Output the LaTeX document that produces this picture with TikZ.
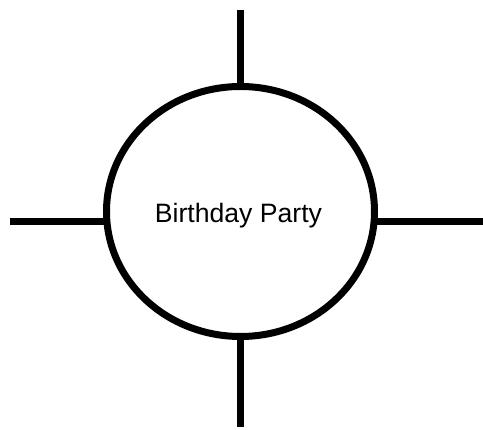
\documentclass[tikz,border=0pt]{standalone}
\usepackage{fontspec}
\setmainfont{Liberation Sans}
\usetikzlibrary{shapes.geometric}
\begin{document}
\begin{tikzpicture}[x=1pt,y=-1pt,
  thick line/.style={line width=7pt},
  bubble/.style={ellipse,draw,line width=7pt,minimum width=268pt,minimum height=250pt,inner sep=0pt}]
\useasboundingbox (0,0) rectangle (483,430);
\node[bubble] (e) at (240.5,211.5) {};
\node[anchor=base,font=\fontsize{26.6}{30}\selectfont,inner sep=0pt] (t) at (238.5,223) {Birthday Party};
\coordinate (top) at (240.5,10);
\coordinate (bot) at (240.5,427);
\coordinate (lft) at (10,222);
\coordinate (rgt) at (483,222);
\coordinate (eT) at (240.5,87);
\coordinate (eB) at (240.5,336);
\coordinate (eL) at (107.5,222);
\coordinate (eR) at (373.5,222);
\draw[thick line] (top) -- (eT);
\draw[thick line] (eB) -- (bot);
\draw[thick line] (lft) -- (eL);
\draw[thick line] (eR) -- (rgt);
\end{tikzpicture}
\end{document}
